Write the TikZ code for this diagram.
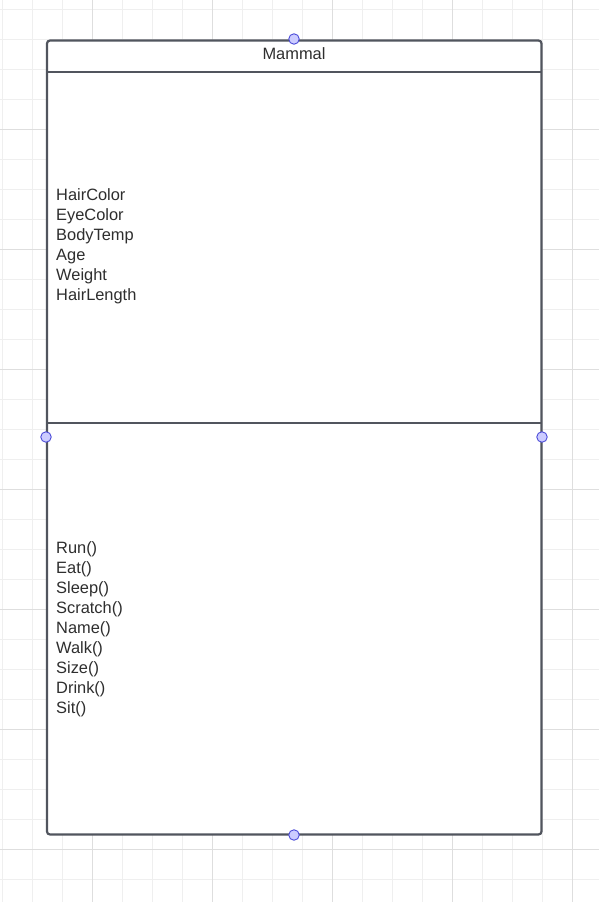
\documentclass[tikz,border=0pt]{standalone}
\usepackage{fontspec}
\setmainfont{Liberation Sans}
\usepackage{xcolor}
\usetikzlibrary{positioning}
\definecolor{ink}{HTML}{51555E}
\definecolor{txt}{HTML}{2E2E2E}
\definecolor{gridlo}{HTML}{EFEFEF}
\definecolor{gridhi}{HTML}{DEDEDE}
\definecolor{knob}{HTML}{CCCCFF}
\definecolor{knobline}{HTML}{4D4DD9}

\begin{document}
\begin{tikzpicture}[x=1pt,y=-1pt,font=\fontsize{16.4}{20}\selectfont,
  member/.style={text=txt,inner sep=0pt,align=left,anchor=base west},
  knob/.style={circle,draw=knobline,fill=knob,line width=0.9pt,minimum size=10.5pt,inner sep=0pt}]
\useasboundingbox (0,0) rectangle (599,902);
% grid
\foreach \x in {2,32,...,572} {\draw[gridlo,line width=1pt] (\x,0) -- (\x,902);}
\foreach \y in {9,39,...,879} {\draw[gridlo,line width=1pt] (0,\y) -- (599,\y);}
\foreach \x in {92,212,...,572} {\draw[gridhi,line width=1pt] (\x,0) -- (\x,902);}
\foreach \y in {129,249,...,849} {\draw[gridhi,line width=1pt] (0,\y) -- (599,\y);}
% class box
\fill[white] (47,40.5) rectangle (541.5,834.5);
\draw[ink,line width=2pt] (47,72) -- (541.5,72);
\draw[ink,line width=1.6pt] (47,423) -- (541.5,423);
\draw[ink,line width=2.2pt,rounded corners=3pt] (47,40.5) rectangle (541.5,834.5);
\node[text=txt,inner sep=0pt,anchor=base] (title) at (294,59) {Mammal};
% last baseline is the anchor
\node[member] (attrs) at (56,300.8) {HairColor\\EyeColor\\BodyTemp\\Age\\Weight\\HairLength};
\node[member] (ops) at (56,713.5) {Run()\\Eat()\\Sleep()\\Scratch()\\Name()\\Walk()\\Size()\\Drink()\\Sit()};
% handles
\node[knob] (ktop) at (294,39) {};
\node[knob] (kleft) at (46,437) {};
\node[knob] (kright) at (542,437) {};
\node[knob] (kbottom) at (294,835) {};
\end{tikzpicture}
\end{document}
